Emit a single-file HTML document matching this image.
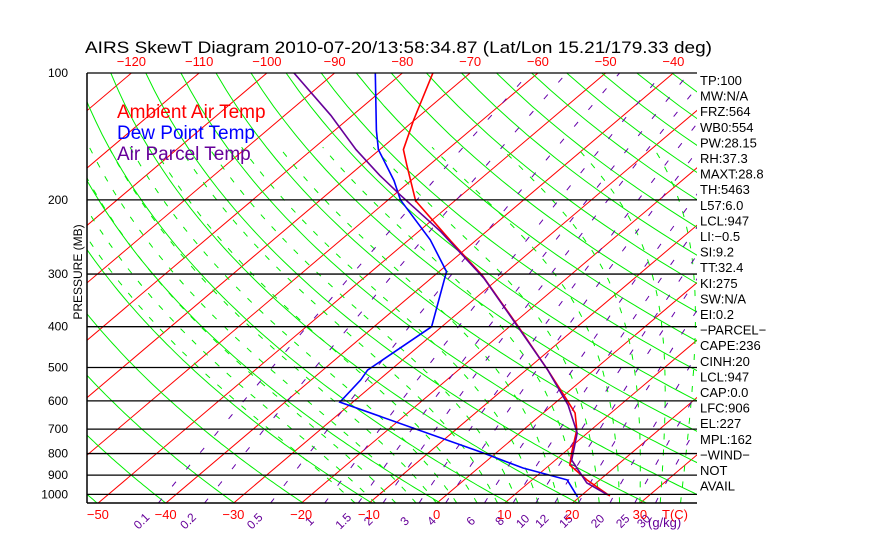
<!DOCTYPE html>
<html><head><meta charset="utf-8"><style>
html,body{margin:0;padding:0;background:#fff;}
svg{display:block;font-family:"Liberation Sans",sans-serif;}
</style></head><body>
<svg id="chart" width="870" height="560" viewBox="0 0 870 560" xmlns="http://www.w3.org/2000/svg">
<defs><clipPath id="plotclip"><rect x="87" y="73" width="610" height="430"/></clipPath></defs>
<rect x="0" y="0" width="870" height="560" fill="#fff"/>
<text x="85" y="53" font-size="17" textLength="627" lengthAdjust="spacingAndGlyphs">AIRS SkewT Diagram 2010-07-20/13:58:34.87 (Lat/Lon 15.21/179.33 deg)</text>
<g id="grid" clip-path="url(#plotclip)"></g>
<g id="series" clip-path="url(#plotclip)"></g>
<g id="axes"></g>
<text x="0" y="0" font-size="12" transform="translate(82,272) rotate(-90)" text-anchor="middle">PRESSURE (MB)</text>
<g font-size="19">
<text x="117" y="118" fill="#ff0000">Ambient Air Temp</text>
<text x="117" y="139" fill="#0000ff">Dew Point Temp</text>
<text x="117" y="160" fill="#660099">Air Parcel Temp</text>
</g>
<g id="stats" font-size="13"></g>
</svg>
<script>
const pressureTicks=[100,200,300,400,500,600,700,800,900,1000];
const bottomTempTicks=[-50,-40,-30,-20,-10,0,10,20,30];
const topTempTicks=[-120,-110,-100,-90,-80,-70,-60,-50,-40];
const mixingRatios=[0.1,0.2,0.5,1,1.5,2,3,4,6,8,10,12,15,20,25,30];
const envP=[1009,924,852,793,703,641,575,507,400,302,250,201,165,152,129,100];
const envT=[24.3,18.1,13.0,11.0,7.9,4.7,-0.6,-6.8,-18.7,-33,-43.7,-55.8,-63.4,-66.5,-70.2,-75.5];
const dewP=[1014,924,866,793,604,535,507,400,296,249,200,180,152,137,100];
const dewT=[19.7,15.2,6.6,-2.5,-31.9,-32.7,-33.4,-31.5,-38.9,-46.8,-58.2,-62.5,-70.2,-73.8,-84];
const parP=[1003,939,829,715,614,507,407,307,238,195,175,152,126,100];
const parT=[23.8,18.6,12.4,8.5,2.3,-6.8,-17.9,-32.2,-46.7,-59,-65.5,-73.5,-83.2,-96];
const statLabels=["TP:100","MW:N/A","FRZ:564","WB0:554","PW:28.15","RH:37.3","MAXT:28.8","TH:5463","L57:6.0","LCL:947","LI:\u22120.5","SI:9.2","TT:32.4","KI:275","SW:N/A","EI:0.2","\u2212PARCEL\u2212","CAPE:236","CINH:20","LCL:947","CAP:0.0","LFC:906","EL:227","MPL:162","\u2212WIND\u2212"," NOT"," AVAIL"];

const NS="http://www.w3.org/2000/svg";
function yOf(p){return 73+183*Math.log(p/100);}
function xOf(T,p){return 437+6.775*T+1.18*(503-yOf(p));}
function mk(tag,attrs,parent){const e=document.createElementNS(NS,tag);for(const k in attrs)e.setAttribute(k,attrs[k]);parent.appendChild(e);return e;}
function ptsStr(ps,ts){return ps.map((p,i)=>xOf(ts[i],p).toFixed(1)+","+yOf(p).toFixed(1)).join(" ");}
const grid=document.getElementById('grid'),series=document.getElementById('series'),axes=document.getElementById('axes'),stats=document.getElementById('stats');

for(let T=-170;T<=60;T+=10){
  const l=mk('line',{x1:xOf(T,1050),y1:yOf(1050),x2:xOf(T,100),y2:yOf(100),stroke:'#ff0000','stroke-width':1},grid);
  
  
}
for(let th=200;th<=600;th+=10){
  const pp=[],tt=[];
  for(let p=1050;p>=100;p-=10){pp.push(p);tt.push(th*Math.pow(p/1000,0.286)-273.15);}
  const l=mk('polyline',{points:ptsStr(pp,tt),fill:'none',stroke:'#00ee00','stroke-width':1},grid);
  
  
}
function es(T){return 6.112*Math.exp(17.67*T/(T+243.5));}
for(let T0=-12;T0<=44;T0+=3){
  let T=T0+273.15;const pp=[],tt=[];
  for(let p=1050;p>=150;p-=5){
    pp.push(p);tt.push(T-273.15);
    const e=es(T-273.15),ws=0.622*e/(p-e),Lv=2.5e6,Rd=287,cp=1005;
    const dTdp=(Rd*T+Lv*ws)/(p*(cp+Lv*Lv*ws*0.622/(Rd*T*T)));
    T-=dTdp*5;
  }
  const l=mk('polyline',{points:ptsStr(pp,tt),fill:'none',stroke:'#00ee00','stroke-width':1,'stroke-dasharray':'6 10'},grid);
  
  
}
function tdFromW(w,p){const e=w*p/(622+w);const a=Math.log(e/6.112);return 243.5*a/(17.67-a);}
mixingRatios.forEach(w=>{
  const pp=[],tt=[];
  for(let p=1050;p>=100;p-=10){pp.push(p);tt.push(tdFromW(w,p));}
  const l=mk('polyline',{points:ptsStr(pp,tt),fill:'none',stroke:'#6600aa','stroke-width':1,'stroke-dasharray':'6 16'},grid);
  
  
  const x=xOf(tdFromW(w,1150),1150),y=yOf(1150)+4;
  const t=mk('text',{x:x,y:y,'font-size':12,fill:'#660099','text-anchor':'middle',transform:`rotate(-45 ${x} ${y})`},axes);
  t.textContent=String(w);
  
  
});
{const t=mk('text',{x:648,y:527,'font-size':13,fill:'#660099'},axes);t.textContent='(g/kg)';

}
pressureTicks.forEach(p=>{
  const y=yOf(p);
  const l=mk('line',{x1:87,y1:y,x2:697,y2:y,stroke:'#000','stroke-width':1.3},axes);
  
  
  const t=mk('text',{x:68,y:y+4,'font-size':12,'text-anchor':'end'},axes);
  t.textContent=String(p);
  
  
});
{const l=mk('line',{x1:87,y1:503,x2:697,y2:503,stroke:'#000','stroke-width':1.5},axes);


const v=mk('line',{x1:87,y1:73,x2:87,y2:503,stroke:'#000','stroke-width':1.5},axes);

}
bottomTempTicks.forEach(T=>{
  const t=mk('text',{x:xOf(T,1050),y:519,'font-size':13,fill:'#ff0000','text-anchor':'middle'},axes);
  t.textContent=T<0?'\u2212'+Math.abs(T):String(T);
  
  
});
{const t=mk('text',{x:662,y:519,'font-size':13,fill:'#ff0000'},axes);t.textContent='T(C)';

}
topTempTicks.forEach(T=>{
  const t=mk('text',{x:xOf(T,100),y:66,'font-size':13,fill:'#ff0000','text-anchor':'middle'},axes);
  t.textContent=T<0?'\u2212'+Math.abs(T):String(T);
  
  
});
function xAtY(ps,ts,y){for(let i=0;i<ps.length-1;i++){const y1=yOf(ps[i]),y2=yOf(ps[i+1]);if((y<=y1&&y>=y2)){const f=(y-y1)/(y2-y1);return xOf(ts[i],ps[i])+f*(xOf(ts[i+1],ps[i+1])-xOf(ts[i],ps[i]));}}return null;}
for(let y=yOf(790);y<=yOf(910);y+=3.5){
  const a=xAtY(envP,envT,y),b=xAtY(parP,parT,y);
  if(a!==null&&b!==null&&b>a){const l=mk('line',{x1:a,y1:y,x2:b,y2:y,stroke:'#660099','stroke-width':1},series);
  
  }
}
const lines=[[envP,envT,'#ff0000','temperature-line'],[dewP,dewT,'#0000ff','dewpoint-line'],[parP,parT,'#660099','parcel-line']];
lines.forEach(([p,t,c,n])=>{
  const l=mk('polyline',{points:ptsStr(p,t),fill:'none',stroke:c,'stroke-width':1.6},series);
  
  
});
statLabels.forEach((s,i)=>{
  const t=mk('text',{x:700,y:85+i*15.6},stats);
  t.textContent=s;
  
  
});
</script>
</body></html>
